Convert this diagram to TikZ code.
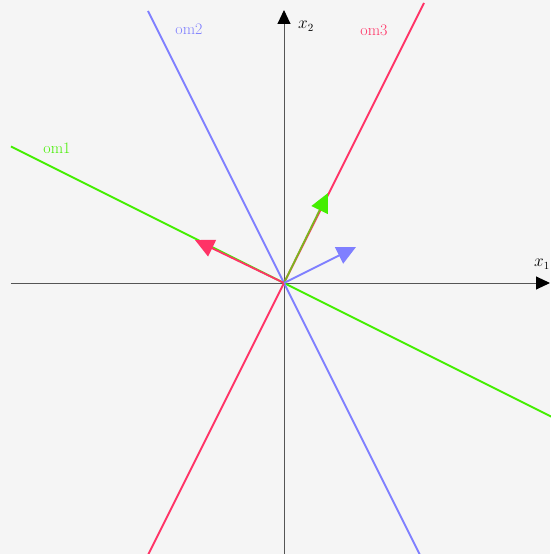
\documentclass[tikz,border=0pt]{standalone}
\usetikzlibrary{arrows.meta}
\definecolor{bg}{HTML}{F5F5F5}
\definecolor{omgreen}{HTML}{44EE00}
\definecolor{omblue}{HTML}{7F7FFF}
\definecolor{omred}{HTML}{FF3366}
\definecolor{axisgray}{HTML}{555555}
\tikzset{
  axis/.style={draw=axisgray,line width=1pt,-{Triangle[length=14pt,width=13pt,fill=black,color=black]}},
  omline/.style={line width=2pt},
  vec/.style={line width=1.8pt,-{Triangle[length=19pt,width=18pt]}},
  omlabel/.style={font=\fontsize{16}{18}\selectfont,inner sep=0pt}
}
\begin{document}
\begin{tikzpicture}[x=1pt,y=1pt]
    \fill[bg](-284,-271)rectangle(266,283);
    \useasboundingbox(-284,-271)rectangle(266,283);
    \coordinate(O)at(0,0);
    \coordinate(X0)at(-273,0);
    \coordinate(X1)at(266,0);
    \coordinate(Y0)at(0,-271);
    \coordinate(Y1)at(0,273);
    \coordinate(A0)at(-273,136.5);
    \coordinate(A1)at(280,-140);
    \coordinate(B0)at(-136,272);
    \coordinate(B1)at(140,-280);
    \coordinate(C0)at(-140,-280);
    \coordinate(C1)at(140,280);
    \draw[axis](X0)--(X1);
    \draw[axis](Y0)--(Y1);
    \draw[omline,omgreen](A0)--(A1);
    \draw[omline,omblue](B0)--(B1);
    \draw[omline,omred](C0)--(C1);
    \draw[vec,draw=omgreen!70!omred,-{Triangle[length=19pt,width=18pt,color=omgreen]}](O)--(44,90);
    \draw[vec,omred](O)--(-89,43);
    \draw[vec,omblue](O)--(72,36);
    \node[omlabel,omgreen]at(-227,135){om1};
    \node[omlabel,omblue]at(-95,254){om2};
    \node[omlabel,omred]at(90,253){om3};
    \node[omlabel]at(22,257){$x_2$};
    \node[omlabel]at(258,19){$x_1$};
\end{tikzpicture}
\end{document}
